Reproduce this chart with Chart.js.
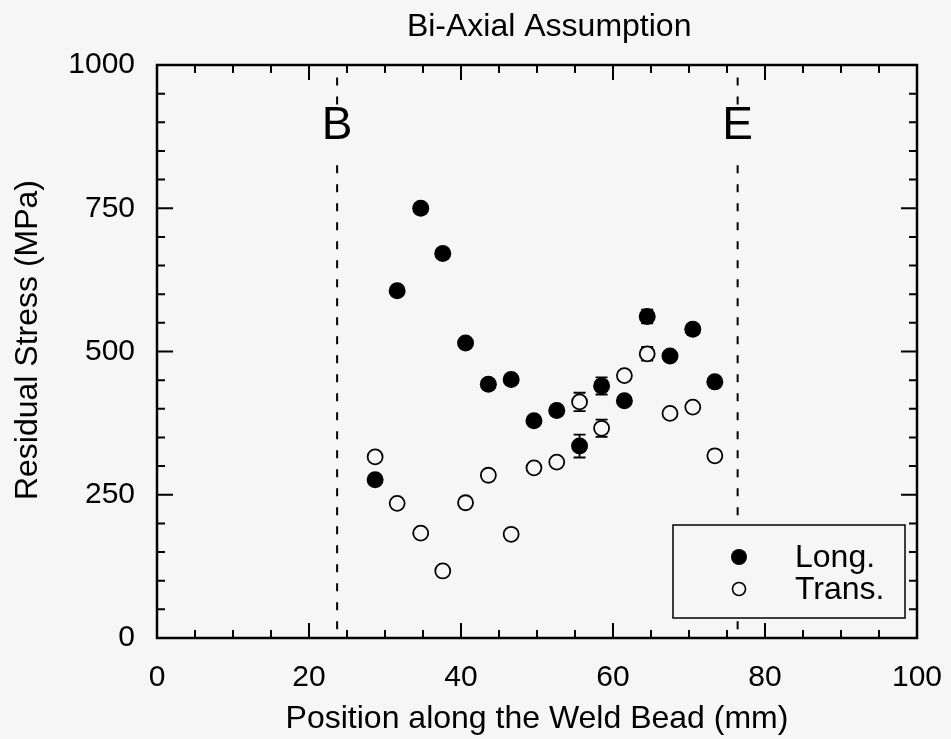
<!DOCTYPE html>
<html>
<head>
<meta charset="utf-8">
<title>Bi-Axial Assumption</title>
<script src="https://cdn.jsdelivr.net/npm/chart.js@4.4.1/dist/chart.umd.min.js"></script>
<style>
  html, body { margin: 0; padding: 0; background: #f6f6f6; }
  #wrap { width: 951px; height: 739px; }
</style>
</head>
<body>
<div id="wrap"><canvas id="chart" width="951" height="739"></canvas></div>
<script>
// positions of the measurements along the bead (mm)
const positions = [28.7, 31.6, 34.7, 37.6, 40.6, 43.6, 46.6, 49.6, 52.6, 55.6, 58.5, 61.5, 64.5, 67.5, 70.5, 73.4];
// residual stress (MPa)
const longStress  = [276, 606, 750, 671, 515, 443, 451, 379, 397, 335, 440, 414, 561, 492, 539, 447];
const transStress = [316, 235, 183, 117, 236, 284, 181, 297, 307, 412, 366, 458, 496, 392, 403, 318];
// error bars (MPa), 0 = none visible
const longErr  = [0, 0, 0, 0, 0, 0, 0, 0, 0, 20, 15, 0, 12, 0, 0, 0];
const transErr = [0, 0, 0, 0, 0, 0, 0, 0, 0, 16, 15, 0, 12, 0, 0, 0];
const seriesLabels = ['Long.', 'Trans.'];

const xTicks = [0, 20, 40, 60, 80, 100];
const yTicks = [0, 250, 500, 750, 1000];

// start (B) and end (E) of the weld bead
const beadMarks = [23.7, 76.4];
const beadLabels = ['B', 'E'];
const beadLabelY = 893;
// dashed line runs 0 -> 825, breaks for the letter, then 930 -> 978
const beadRuns = [[0, 825], [930, 978]];

const FONT = '"Liberation Sans", Arial, Helvetica, sans-serif';
const BG = '#f6f6f6';
Chart.defaults.font.family = FONT;
Chart.defaults.color = '#000';

const pts = (ys) => positions.map((x, i) => ({ x: x, y: ys[i] }));

const framePlugin = {
    id: 'frame',
    beforeDatasetsDraw(chart) {
        const ctx = chart.ctx;
        const xs = chart.scales.x, ys = chart.scales.y;
        ctx.save();
        ctx.strokeStyle = '#000';

        // bead start / end lines
        ctx.lineWidth = 2;
        ctx.setLineDash([8, 11]);
        beadMarks.forEach(m => {
            const px = xs.getPixelForValue(m);
            beadRuns.forEach(([lo, hi]) => {
                ctx.beginPath();
                ctx.moveTo(px, ys.getPixelForValue(hi));
                ctx.lineTo(px, ys.getPixelForValue(lo));
                ctx.stroke();
            });
        });
        ctx.setLineDash([]);

        // error bars, drawn under the markers
        ctx.lineWidth = 1.8;
        ctx.beginPath();
        [[longStress, longErr], [transStress, transErr]].forEach(([vals, errs]) => {
            positions.forEach((p, i) => {
                if (!errs[i]) return;
                const px = xs.getPixelForValue(p);
                const y1 = ys.getPixelForValue(vals[i] + errs[i]);
                const y2 = ys.getPixelForValue(vals[i] - errs[i]);
                ctx.moveTo(px, y1); ctx.lineTo(px, y2);
                ctx.moveTo(px - 6, y1); ctx.lineTo(px + 6, y1);
                ctx.moveTo(px - 6, y2); ctx.lineTo(px + 6, y2);
            });
        });
        ctx.stroke();
        ctx.restore();
    },
    afterDatasetsDraw(chart) {
        const ctx = chart.ctx;
        const xs = chart.scales.x, ys = chart.scales.y;
        ctx.save();
        ctx.fillStyle = '#000';
        ctx.font = '46px ' + FONT;
        ctx.textAlign = 'center';
        ctx.textBaseline = 'middle';
        beadMarks.forEach((m, i) => {
            ctx.fillText(beadLabels[i], xs.getPixelForValue(m), ys.getPixelForValue(beadLabelY));
        });
        ctx.restore();
    },
    afterDraw(chart) {
        const ctx = chart.ctx;
        const a = chart.chartArea;
        const xs = chart.scales.x, ys = chart.scales.y;
        ctx.save();

        // ticks inward on all four sides
        ctx.strokeStyle = '#000';
        ctx.lineWidth = 2;
        ctx.beginPath();
        for (let v = 0; v <= 100; v += 5) {
            const px = xs.getPixelForValue(v);
            const len = xTicks.includes(v) ? 15 : 8;
            ctx.moveTo(px, a.bottom); ctx.lineTo(px, a.bottom - len);
            ctx.moveTo(px, a.top); ctx.lineTo(px, a.top + len);
        }
        for (let v = 0; v <= 1000; v += 50) {
            const py = ys.getPixelForValue(v);
            const len = yTicks.includes(v) ? 16 : 8;
            ctx.moveTo(a.left, py); ctx.lineTo(a.left + len, py);
            ctx.moveTo(a.right, py); ctx.lineTo(a.right - len, py);
        }
        ctx.stroke();
        ctx.lineWidth = 2.5;
        ctx.strokeRect(a.left, a.top, a.right - a.left, a.bottom - a.top);

        // title
        ctx.fillStyle = '#000';
        ctx.font = '32px ' + FONT;
        ctx.textAlign = 'center';
        ctx.textBaseline = 'middle';
        ctx.fillText('Bi-Axial Assumption', xs.getPixelForValue(51.6), 27);

        // y axis title, a little above the axis middle as in the source
        ctx.save();
        ctx.translate(28, ys.getPixelForValue(520));
        ctx.rotate(-Math.PI / 2);
        ctx.fillText('Residual Stress (MPa)', 0, 0);
        ctx.restore();

        // legend
        const bx = a.right - 244, by = a.bottom - 113, bw = 232, bh = 93;
        ctx.fillStyle = BG;
        ctx.fillRect(bx, by, bw, bh);
        ctx.lineWidth = 1.5;
        ctx.strokeRect(bx, by, bw, bh);
        const sets = chart.data.datasets;
        [0, 1].forEach(i => {
            const ds = sets[i];
            const cy = by + 32 + i * 32;
            ctx.beginPath();
            ctx.arc(bx + 66, cy, i === 0 ? 8 : 6.5, 0, Math.PI * 2);
            ctx.fillStyle = ds.backgroundColor;
            ctx.fill();
            if (ds.borderWidth) {
                ctx.lineWidth = 1.6;
                ctx.strokeStyle = ds.borderColor;
                ctx.stroke();
            }
            ctx.fillStyle = '#000';
            ctx.font = '32px ' + FONT;
            ctx.textAlign = 'left';
            ctx.fillText(ds.label, bx + 122, cy + 1);
        });
        ctx.restore();
    }
};

new Chart(document.getElementById('chart'), {
    type: 'scatter',
    data: {
        datasets: [
            {
                label: seriesLabels[0],
                data: pts(longStress),
                backgroundColor: '#000',
                borderColor: '#000',
                borderWidth: 0,
                pointRadius: 8.5
            },
            {
                label: seriesLabels[1],
                data: pts(transStress),
                backgroundColor: BG,
                borderColor: '#000',
                borderWidth: 1.8,
                pointRadius: 7.5
            }
        ]
    },
    options: {
        responsive: false,
        animation: false,
        layout: { padding: { top: 65, right: 34, left: 0, bottom: 0 } },
        plugins: {
            legend: { display: false },
            tooltip: { enabled: false },
            title: { display: false }
        },
        scales: {
            x: {
                type: 'linear',
                min: 0,
                max: 100,
                afterBuildTicks: s => { s.ticks = xTicks.map(v => ({ value: v })); },
                afterFit: s => { s.height = 101; s.paddingLeft = 0; s.paddingRight = 0; },
                grid: { display: false, drawTicks: false },
                border: { display: false },
                ticks: { font: { size: 30 }, padding: 22, color: '#000', autoSkip: false, maxRotation: 0 },
                title: {
                    display: true,
                    text: 'Position along the Weld Bead (mm)',
                    font: { size: 32 },
                    color: '#000',
                    padding: { top: 0, bottom: 1 }
                }
            },
            y: {
                type: 'linear',
                min: 0,
                max: 1000,
                afterBuildTicks: s => { s.ticks = yTicks.map(v => ({ value: v })); },
                afterFit: s => { s.width = 157; s.paddingTop = 0; s.paddingBottom = 0; },
                grid: { display: false, drawTicks: false },
                border: { display: false },
                ticks: { font: { size: 30 }, padding: 22, color: '#000', autoSkip: false, callback: v => String(v) },
                title: { display: false }
            }
        }
    },
    plugins: [framePlugin]
});
</script>
</body>
</html>
